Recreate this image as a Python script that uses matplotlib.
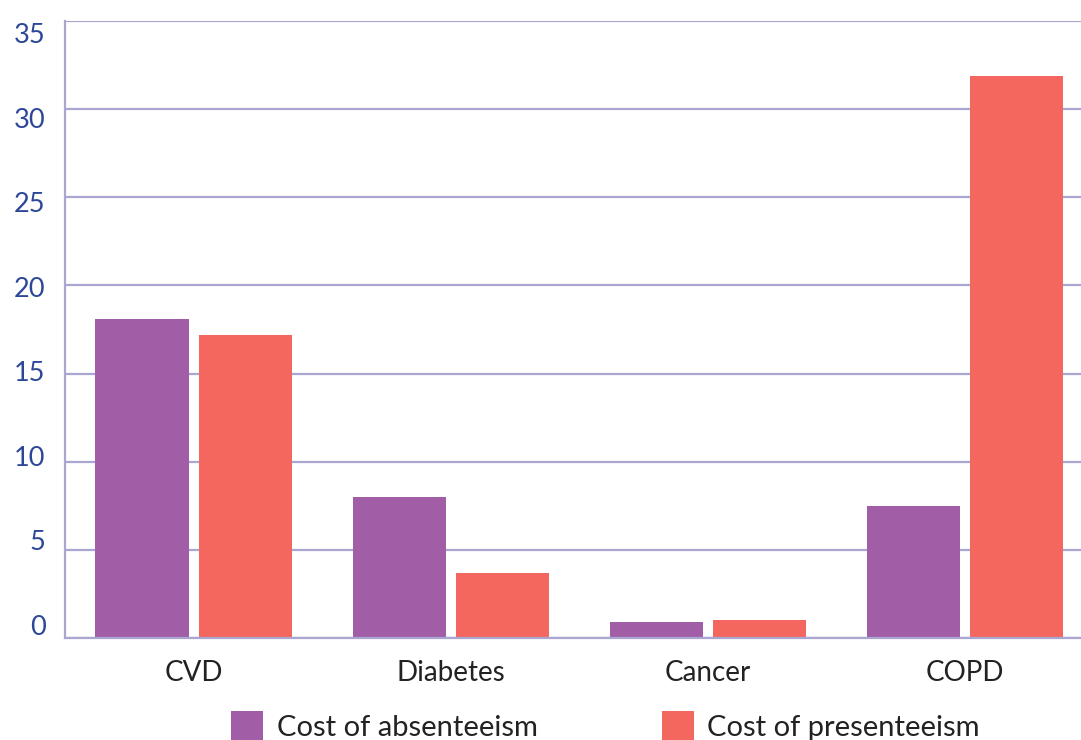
import numpy as np
import matplotlib
matplotlib.use("Agg")
import matplotlib.pyplot as plt
from matplotlib.transforms import ScaledTranslation

categories = ["CVD", "Diabetes", "Cancer", "COPD"]
absenteeism = [18.1, 8.0, 0.9, 7.5]
presenteeism = [17.2, 3.7, 1.0, 31.9]
series_labels = ["Cost of absenteeism", "Cost of presenteeism"]
y_ticks = [0, 5, 10, 15, 20, 25, 30, 35]

purple = "#a15ea6"
coral = "#f4675f"
grid_col = "#a9a7d1"
tick_col = "#2c4797"
text_col = "#222222"

plt.rcParams["font.family"] = ["Lato", "DejaVu Sans"]

fig = plt.figure(figsize=(10.81, 7.40), dpi=100)
ax = fig.add_axes([0.0601, 0.1378, 0.9514, 0.8338])

x = np.arange(len(categories))
w = 0.362
off = 0.2004
b1 = ax.bar(x - off, absenteeism, w, color=purple, label=series_labels[0], zorder=2)
b2 = ax.bar(x + off, presenteeism, w, color=coral, label=series_labels[1], zorder=2)

ax.set_xlim(-0.5, 3.5)
ax.set_ylim(0, 35)
ax.set_yticks(y_ticks)
ax.set_yticklabels([str(v) for v in y_ticks])
ax.set_xticks(x)
ax.set_xticklabels(categories)

ax.grid(axis="y", color=grid_col, linewidth=1.6, zorder=0)
ax.set_axisbelow(True)
for side in ["top", "right"]:
    ax.spines[side].set_visible(False)
ax.spines["left"].set_color(grid_col)
ax.spines["left"].set_linewidth(1.6)
ax.spines["bottom"].set_color(grid_col)
ax.spines["bottom"].set_linewidth(1.6)
ax.spines["bottom"].set_zorder(3)

ax.tick_params(axis="y", length=0, pad=14, labelsize=19.5, labelcolor=tick_col)
ax.tick_params(axis="x", length=0, pad=16, labelsize=20, labelcolor=text_col)

# the value labels sit on a slightly tighter spacing than the grid lines
for v, lab in zip(y_ticks, ax.get_yticklabels()):
    dy = (13 - 0.72 * v) / 100
    lab.set_transform(lab.get_transform() + ScaledTranslation(0, dy, fig.dpi_scale_trans))

fig.legend(handles=[b1, b2], labels=series_labels, loc="upper left",
           bbox_to_anchor=(231 / 1081, 1 - 711 / 740), ncol=2, frameon=False,
           fontsize=21, handlelength=1.1, handleheight=1.25, handletextpad=0.47,
           columnspacing=4.25, borderpad=0, borderaxespad=0, labelcolor=text_col)

fig.savefig("out.png", dpi=100)
